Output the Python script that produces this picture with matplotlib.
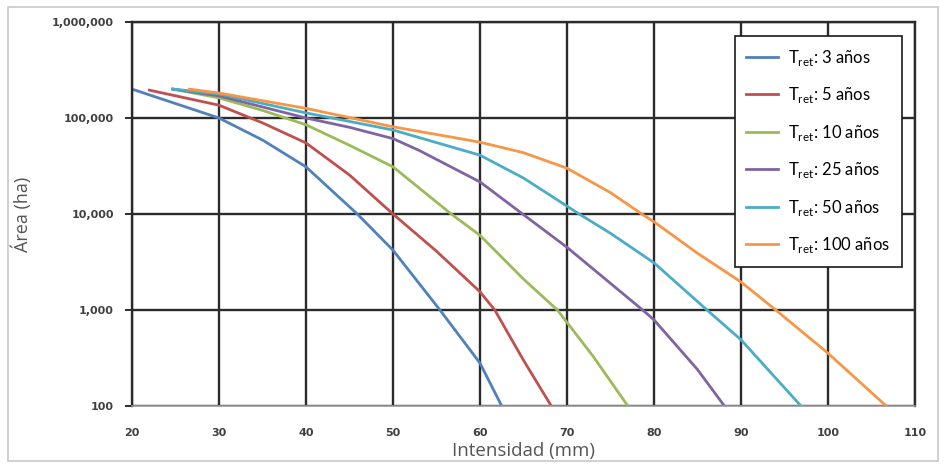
import matplotlib
matplotlib.use('Agg')
import matplotlib.pyplot as plt
from matplotlib.ticker import FuncFormatter, FixedLocator, NullLocator
from matplotlib.patches import Rectangle

# valores (Intensidad mm -> Area ha)
x_3 = [20, 30, 35, 40, 45.9, 50, 55.4, 60, 62.5]
y_3 = [200000, 100000, 59000, 31000, 10000, 4200, 1000, 280, 100]

x_5 = [22, 30, 35, 40, 45, 50, 55, 60, 61.7, 65, 68.2]
y_5 = [195000, 136000, 89000, 55000, 25500, 10000, 4100, 1550, 1000, 300, 100]

x_10 = [24.7, 30, 35, 40, 45, 50, 56.7, 60, 65, 68.9, 73, 77]
y_10 = [200000, 162000, 120000, 85000, 52000, 31000, 10000, 6000, 2100, 1000, 330, 100]

x_25 = [24.7, 30, 40, 45, 50, 53, 60, 64.9, 70, 78.7, 80, 85, 88.1]
y_25 = [200000, 170000, 100000, 80000, 61000, 46000, 21600, 10000, 4500, 1000, 790, 240, 100]

x_50 = [24.7, 30, 40, 50, 60, 65, 71.4, 75, 80, 86.1, 90, 96.9]
y_50 = [200000, 178000, 113000, 75000, 41000, 23700, 10000, 6300, 3100, 1000, 490, 100]

x_100 = [26.6, 30, 40, 50, 60, 65, 70, 75, 78.6, 80, 85, 90, 94, 100, 106.7]
y_100 = [200000, 182000, 126000, 81000, 56000, 43500, 30000, 16700, 10000, 8300, 3900, 1960, 1000, 355, 100]

periodos = ['3', '5', '10', '25', '50', '100']
colores = ['#4F81BD', '#C0504D', '#9BBB59', '#8064A2', '#4BACC6', '#F79646']
series = [(x_3, y_3), (x_5, y_5), (x_10, y_10), (x_25, y_25), (x_50, y_50), (x_100, y_100)]

x_ticks = [20, 30, 40, 50, 60, 70, 80, 90, 100, 110]
y_ticks = [100, 1000, 10000, 100000, 1000000]

plt.rcParams['mathtext.fontset'] = 'custom'
plt.rcParams['mathtext.rm'] = 'Lato'

fig = plt.figure(figsize=(9.46, 4.69), dpi=100)
ax = fig.add_axes([0.1395, 0.1343, 0.8277, 0.8188])

# marco exterior gris
fig.patches.append(Rectangle((0.008, 0.017), 0.984, 0.968, transform=fig.transFigure,
                             fill=False, edgecolor='#c8c8c8', linewidth=1.2))

for (xs, ys), p, c in zip(series, periodos, colores):
    ax.plot(xs, ys, color=c, linewidth=2.0, label=r'T$_{\mathrm{ret}}$: ' + p + ' años')

ax.set_yscale('log')
ax.set_xlim(20, 110)
ax.set_ylim(100, 1000000)
ax.xaxis.set_major_locator(FixedLocator(x_ticks))
ax.yaxis.set_major_locator(FixedLocator(y_ticks))
ax.yaxis.set_minor_locator(NullLocator())
ax.yaxis.set_major_formatter(FuncFormatter(lambda v, pos: f'{int(v):,}'))

ax.grid(True, which='major', color='#2b2b2b', linewidth=1.7)
ax.set_axisbelow(True)
for s in ['left', 'right', 'top']:
    ax.spines[s].set_color('#2b2b2b')
    ax.spines[s].set_linewidth(1.7)
ax.spines['bottom'].set_color('#9a9a9a')
ax.spines['bottom'].set_linewidth(1.2)

ax.tick_params(axis='y', length=5, width=1.4, color='#2b2b2b', pad=8,
               labelsize=8, labelcolor='#404040')
ax.tick_params(axis='x', length=0, pad=16, labelsize=8, labelcolor='#404040')
for lab in ax.get_xticklabels() + ax.get_yticklabels():
    lab.set_fontweight('bold')

ax.set_xlabel('Intensidad (mm)', fontsize=13.5, color='#555555', family='Open Sans', labelpad=3)
ax.set_ylabel('Área (ha)', fontsize=13, color='#555555', family='Open Sans', labelpad=14)

leg = ax.legend(loc='upper right', bbox_to_anchor=(0.983, 0.9635), borderaxespad=0,
                fancybox=False, framealpha=1, edgecolor='#1a1a1a', handlelength=1.9,
                labelspacing=1.05, borderpad=0.7, handletextpad=0.6,
                prop={'family': 'Lato', 'size': 12})
leg.get_frame().set_linewidth(1.2)

fig.savefig('out.png', dpi=100, facecolor='white')
